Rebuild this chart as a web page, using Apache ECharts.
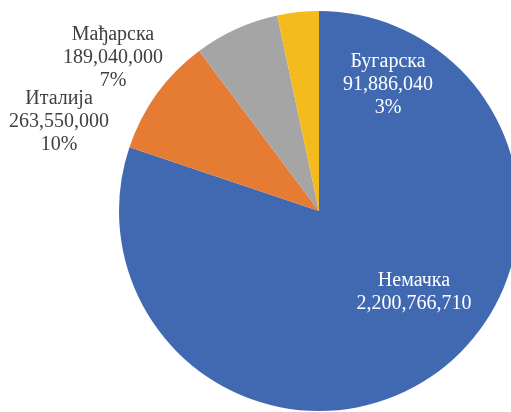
<!DOCTYPE html>
<html lang="sr">
<head>
    <meta charset="utf-8">
    <title>Pie</title>
    <script type="text/javascript" src="https://cdn.jsdelivr.net/npm/echarts@6/dist/echarts.min.js"></script>
    <style>
        html, body { margin: 0; padding: 0; background: #fff; }
    </style>
</head>
<body>
<div id="main" style="width: 511px;height:412px;"></div>
<script type="text/javascript">
    // podaci
    var names = ['Немачка', 'Италија', 'Мађарска', 'Бугарска'];
    var values = [2200766710, 263550000, 189040000, 91886040];
    var colors = ['#4169B2', '#E67B33', '#A5A5A5', '#F4BA1E'];

    // pozicije natpisa (centar teksta)
    var labelPos = [[414, 292], [59, 122], [113, 58], [388, 85]];

    var myChart = echarts.init(document.getElementById("main"));
    var data = [];
    for (var i = 0; i < names.length; i++) {
        data.push({
            name: names[i],
            value: values[i],
            itemStyle: {color: colors[i]},
            label: {color: (i === 0 || i === 3) ? '#ffffff' : '#404040'}
        });
    }

    var option = {
        animation: false,
        series: [{
            type: 'pie',
            center: [319, 211],
            radius: [0, 200],
            startAngle: 90,
            clockwise: true,
            percentPrecision: 0,
            data: data,
            label: {
                show: true,
                position: 'inside',
                fontFamily: 'Liberation Serif',
                fontSize: 20,
                lineHeight: 23,
                align: 'center',
                formatter: function (p) {
                    var s = p.name + '\n' + p.value.toLocaleString('en-US');
                    if (p.dataIndex !== 0) s += '\n' + p.percent + '%';
                    return s;
                }
            },
            labelLine: {show: false},
            labelLayout: function (params) {
                var pos = labelPos[params.dataIndex];
                return {x: pos[0], y: pos[1], align: 'center', verticalAlign: 'middle'};
            }
        }]
    };
    myChart.setOption(option);
</script>
</body>
</html>
